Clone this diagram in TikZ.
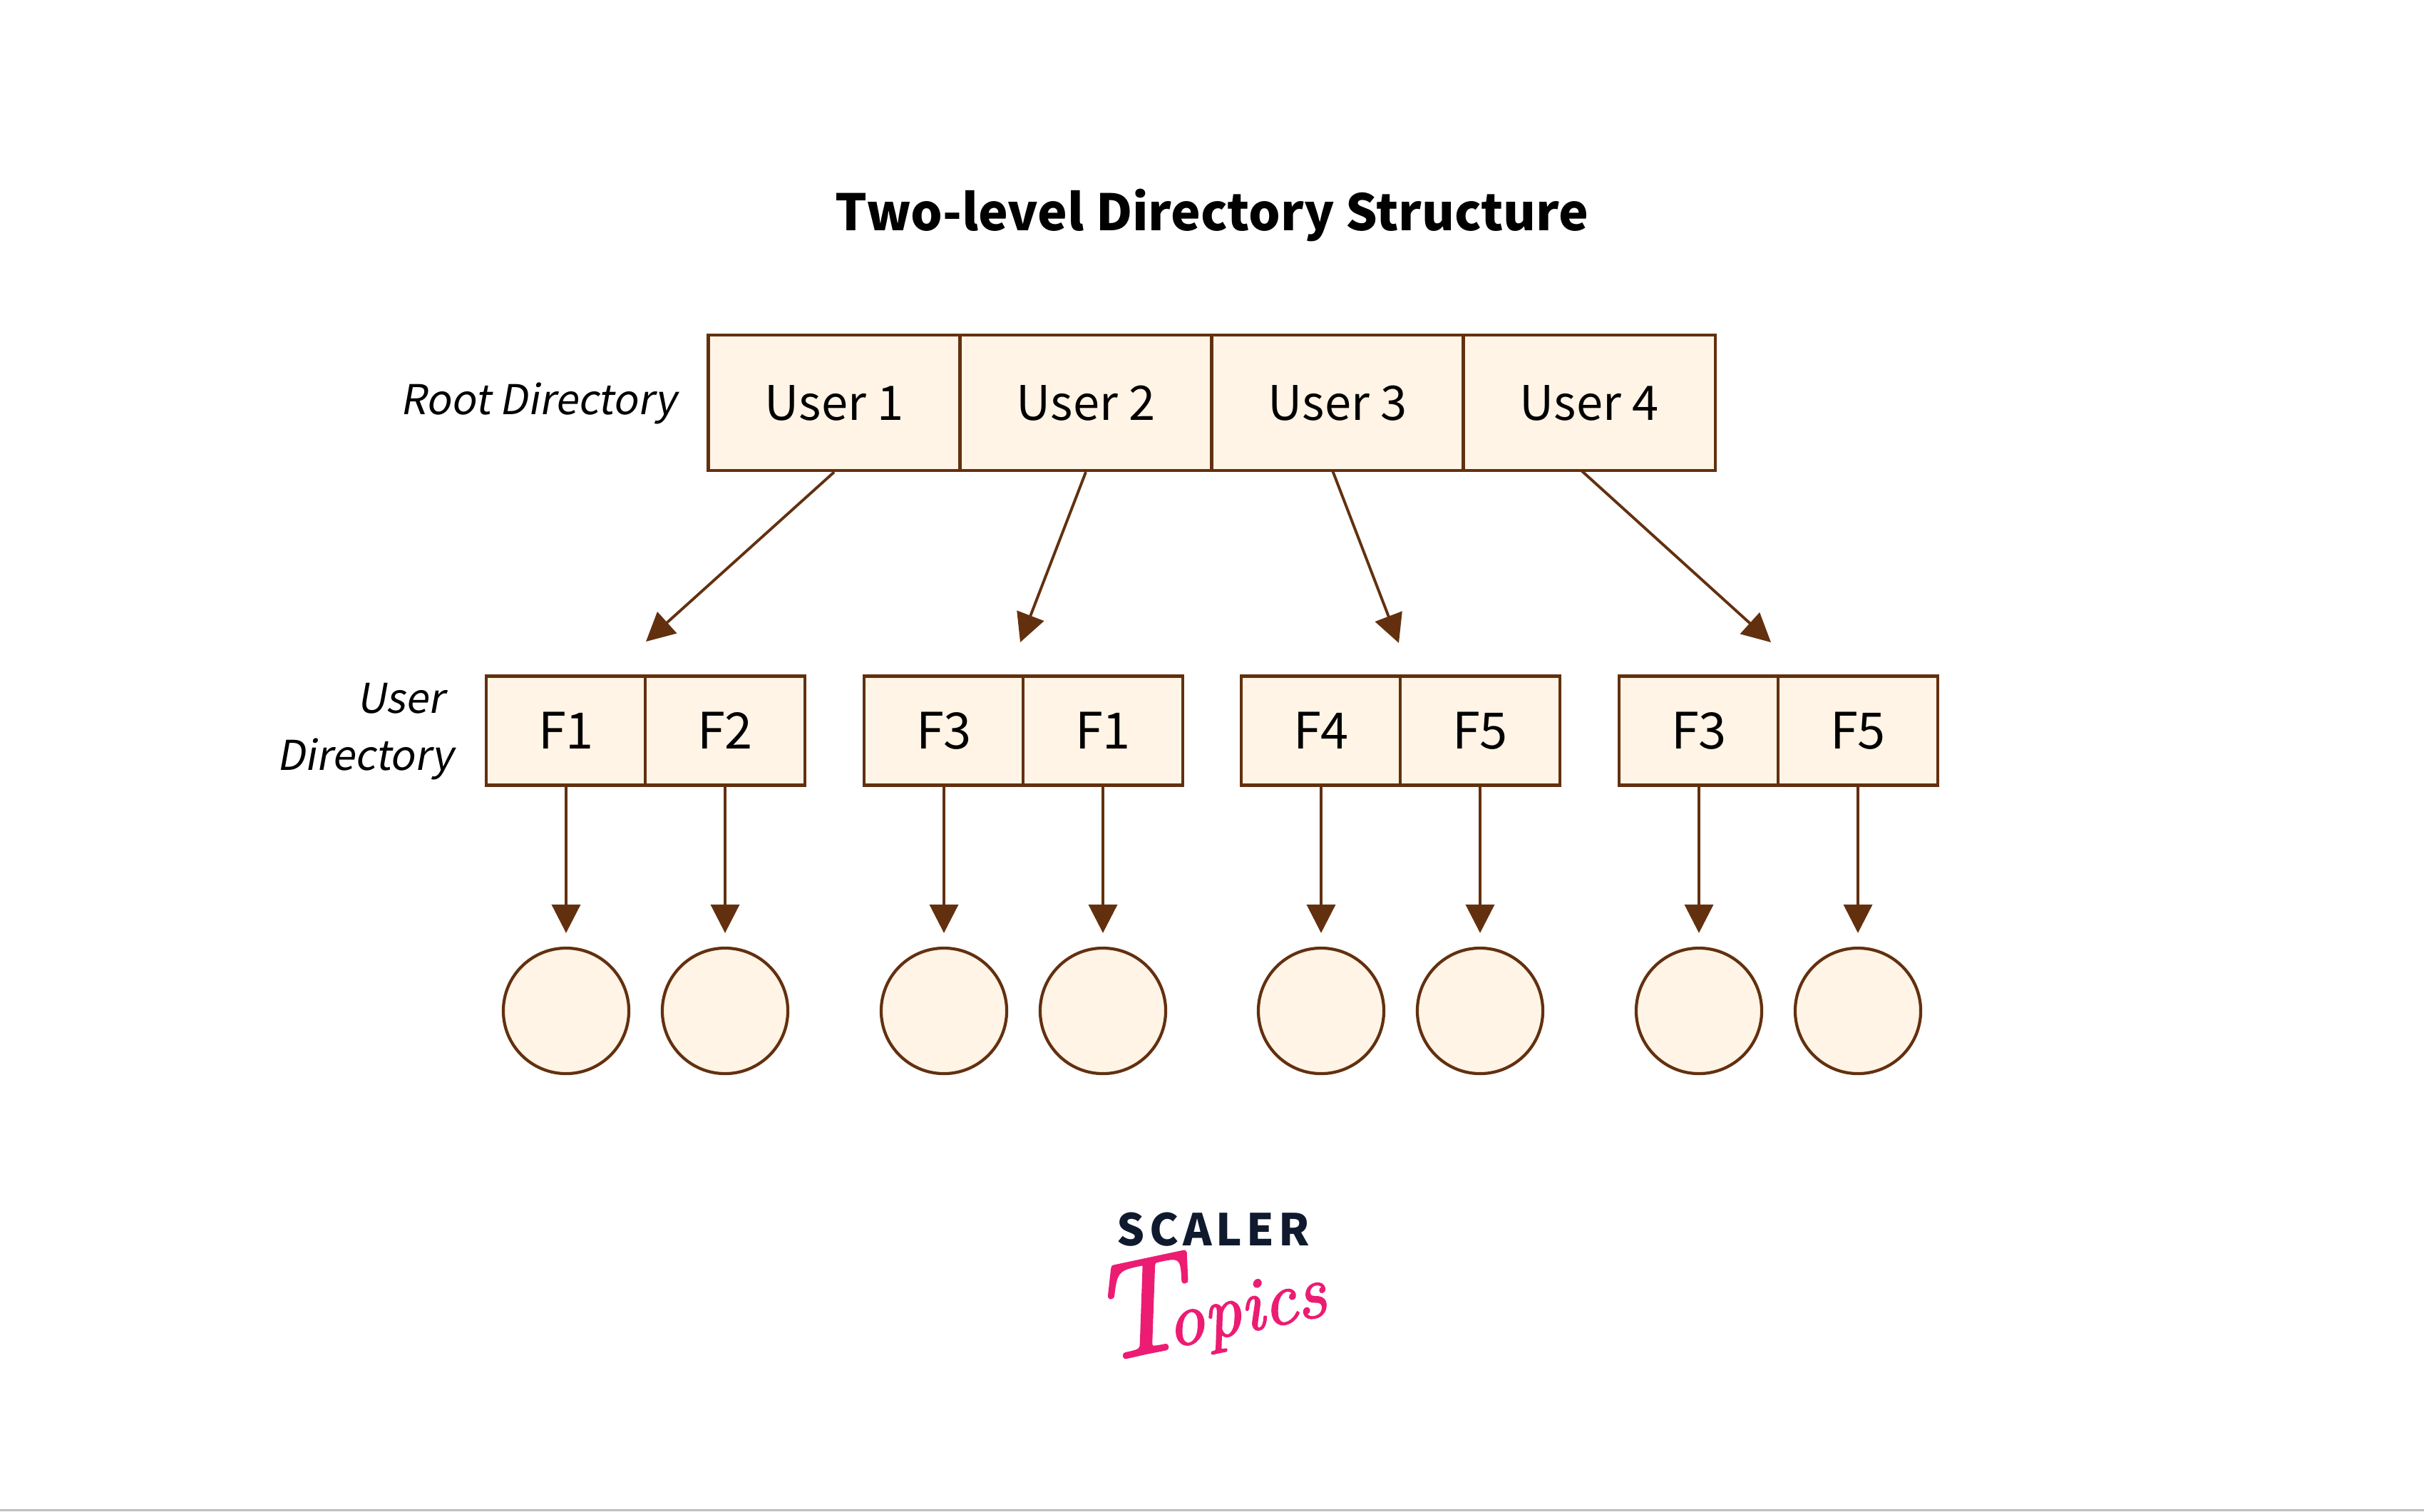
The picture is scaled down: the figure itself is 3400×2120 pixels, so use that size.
\documentclass[tikz,border=0pt]{standalone}
\usepackage{fontspec}
\setmainfont{Noto Sans CJK SC}
\newfontfamily\slantfont[FakeSlant=0.18]{Noto Sans CJK SC}
\newfontfamily\logofont[FakeBold=2]{Latin Modern Roman}
\usetikzlibrary{arrows.meta}
\definecolor{boxfill}{HTML}{FFF4E5}
\definecolor{boxline}{HTML}{63300F}
\definecolor{scalernavy}{HTML}{0F1A2E}
\definecolor{topicspink}{HTML}{EC1C73}
\tikzset{
    rootbox/.style={draw=boxline,fill=boxfill,line width=1.2pt,minimum width=3.53cm,minimum height=1.9cm,inner sep=0pt,font=\fontsize{19}{24}\selectfont},
    userbox/.style={draw=boxline,fill=boxfill,line width=1.2pt,minimum width=2.235cm,minimum height=1.53cm,inner sep=0pt,font=\fontsize{20}{24}\selectfont},
    filecircle/.style={circle,draw=boxline,fill=boxfill,line width=1.2pt,minimum size=1.76cm,inner sep=0pt},
    link/.style={draw=boxline,line width=1.1pt,-{Triangle[length=0.4cm,width=0.4cm]}},
    sidelabel/.style={font=\fontsize{16.4}{22.8}\selectfont\slantfont,inner sep=0pt}
}
\begin{document}
\begin{tikzpicture}[x=0.01cm,y=-0.01cm]
    \useasboundingbox (0,0) rectangle (3400,2120);
    \fill[white] (0,0) rectangle (3400,2120);
    \fill[black!25] (0,2117) rectangle (3400,2120);

    % Title
    \node[font=\fontsize{20}{26}\bfseries\selectfont] (title) at (1700,302) {Two-level Directory Structure};

    % Root directory
    \node[sidelabel] (rootlabel) at (755,566) {Root Directory};
    \node[rootbox] (u1) at (1170,565) {User 1};
    \node[rootbox] (u2) at (1523,565) {User 2};
    \node[rootbox] (u3) at (1876,565) {User 3};
    \node[rootbox] (u4) at (2229,565) {User 4};

    % User directories
    \node[sidelabel,align=right] (userlabel) at (512,1026) {User\hspace*{0.13cm}\\Directory};
    \node[userbox] (f1) at (794,1025) {F1};
    \node[userbox] (f2) at (1017,1025) {F2};
    \node[userbox] (f3) at (1324,1025) {F3};
    \node[userbox] (f4) at (1547,1025) {F1};
    \node[userbox] (f5) at (1853,1025) {F4};
    \node[userbox] (f6) at (2076,1025) {F5};
    \node[userbox] (f7) at (2383,1025) {F3};
    \node[userbox] (f8) at (2606,1025) {F5};

    % Files
    \foreach \i/\x in {1/794,2/1017,3/1324,4/1547,5/1853,6/2076,7/2383,8/2606}{
        \node[filecircle] (c\i) at (\x,1418) {};
        \draw[link,shorten >=0.19cm] (f\i) -- (c\i);
    }

    % Links from the root entries
    \coordinate (t1) at (906,900);
    \coordinate (t2) at (1431,901);
    \coordinate (t3) at (1962,902);
    \coordinate (t4) at (2484,901);
    \coordinate (s3) at (1869,660);
    \coordinate (s4) at (2218,660);
    \draw[link] (u1.south) -- (t1);
    \draw[link] (u2.south) -- (t2);
    \draw[link] (s3) -- (t3);
    \draw[link] (s4) -- (t4);

    % Logo
    \node[font=\fontsize{17.5}{20}\bfseries\selectfont,text=scalernavy,inner sep=0pt] (scaler) at (1702,1725) {S\hspace{0.06cm}C\hspace{0.06cm}A\hspace{0.06cm}L\hspace{0.06cm}E\hspace{0.06cm}R};
    \node[font=\logofont\itshape,text=topicspink,rotate=12,inner sep=0pt] (topics) at (1692,1825) {\fontsize{54}{56}\selectfont T\hspace{-0.3cm}\fontsize{30}{56}\selectfont opics};
\end{tikzpicture}
\end{document}
